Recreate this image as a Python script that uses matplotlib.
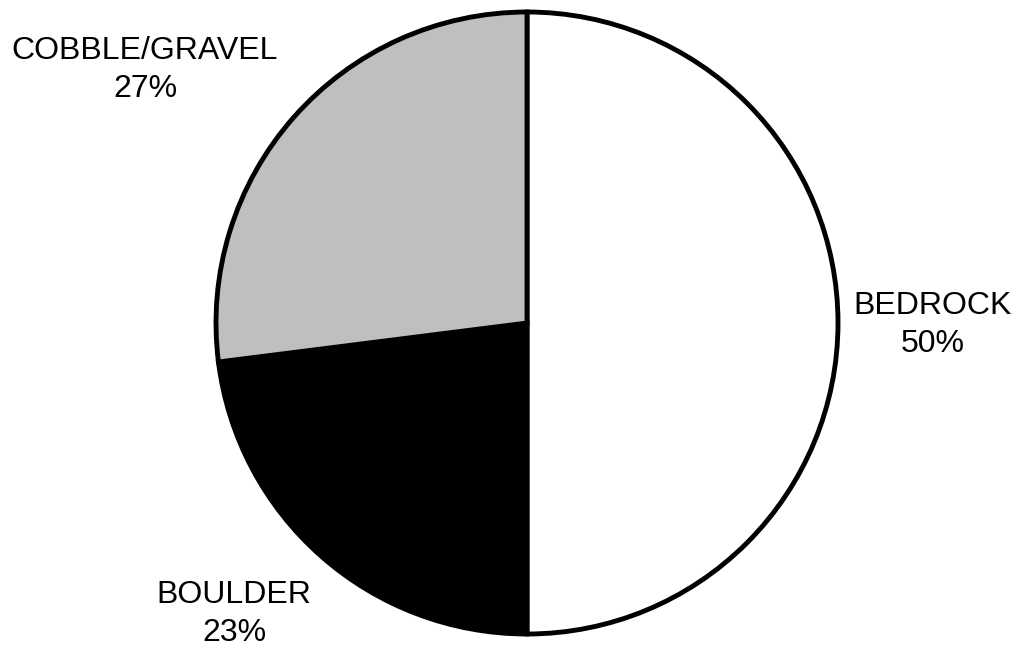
import matplotlib
matplotlib.use("Agg")
import matplotlib.pyplot as plt

categories = ["BEDROCK", "BOULDER", "COBBLE/GRAVEL"]
values = [50, 23, 27]
colors = ["#FFFFFF", "#000000", "#BFBFBF"]
label_pos = [(1.305, -0.006), (-0.942, -0.936), (-1.228, 0.813)]

plt.rcParams['font.family'] = ['Liberation Sans', 'DejaVu Sans']

fig = plt.figure(figsize=(10.18, 6.49), dpi=100)
ax = fig.add_axes([0, 0, 1, 1])
ax.pie(values, colors=colors, startangle=90, counterclock=False,
       radius=1.0, center=(0, 0),
       wedgeprops=dict(edgecolor="black", linewidth=3.5))
for cat, v, (x, y) in zip(categories, values, label_pos):
    ax.text(x, y, f"{cat}\n{v}%", ha="center", va="center", fontsize=23,
            linespacing=1.35)
ax.set_xlim(-527 / 311, (1018 - 527) / 311)
ax.set_ylim(-(649 - 323) / 311, 323 / 311)
ax.set_aspect("equal")
ax.axis("off")
fig.savefig("out.png", dpi=100)
